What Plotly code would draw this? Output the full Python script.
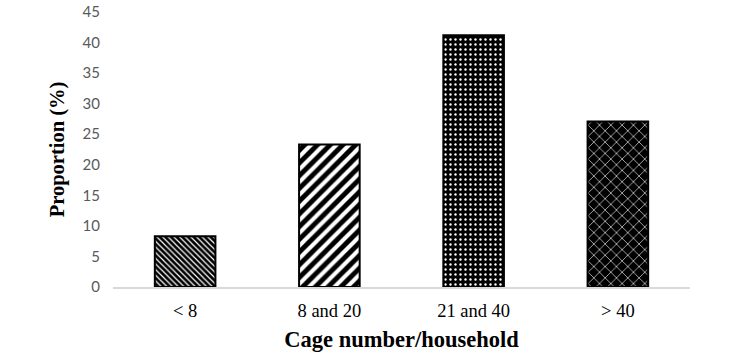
import plotly.graph_objects as go

categories = ["< 8", "8 and 20", "21 and 40", "> 40"]
proportions = [8.3, 23.3, 41.2, 27.1]
y_ticks = [0, 5, 10, 15, 20, 25, 30, 35, 40, 45]

shapes = ["\\", "/", ".", "x"]
sizes = [4, 9, 5, 8]
solidity = [0.3, 0.45, 0.18, 0.15]

fig = go.Figure()
for i, (c, v) in enumerate(zip(categories, proportions)):
    fig.add_trace(go.Bar(
        x=[c], y=[v],
        marker=dict(
            color="black",
            line=dict(color="black", width=2),
            pattern=dict(shape=shapes[i], fgcolor="white", bgcolor="black",
                         size=sizes[i], solidity=solidity[i], fillmode="replace"),
        ),
        width=0.42,
        showlegend=False,
    ))

fig.update_layout(
    width=735, height=359,
    margin=dict(l=113, r=45, t=12, b=72),
    paper_bgcolor="white", plot_bgcolor="white",
    barmode="overlay",
    xaxis=dict(
        type="category", categoryorder="array", categoryarray=categories,
        showline=True, linecolor="#d9d9d9", linewidth=1.5,
        ticks="", showgrid=False, automargin=False, ticklabelstandoff=6,
        tickfont=dict(family="Liberation Serif", size=18.5, color="black"),
        title=dict(text="<b>Cage number/household</b>", standoff=11,
                   font=dict(family="Liberation Serif", size=22.5, color="black")),
    ),
    yaxis=dict(
        range=[0, 45], tickvals=y_ticks, showgrid=False, zeroline=False,
        showline=False, ticks="", automargin=False, ticklabelstandoff=12,
        tickfont=dict(family="Lato", size=15, color="#595959"),
        title=dict(text="<b>Proportion (%)</b>", standoff=12,
                   font=dict(family="Liberation Serif", size=20.5, color="black")),
    ),
)

fig.write_html("out.html", config={"displayModeBar": False},
               post_script="document.body.style.margin='0';")
